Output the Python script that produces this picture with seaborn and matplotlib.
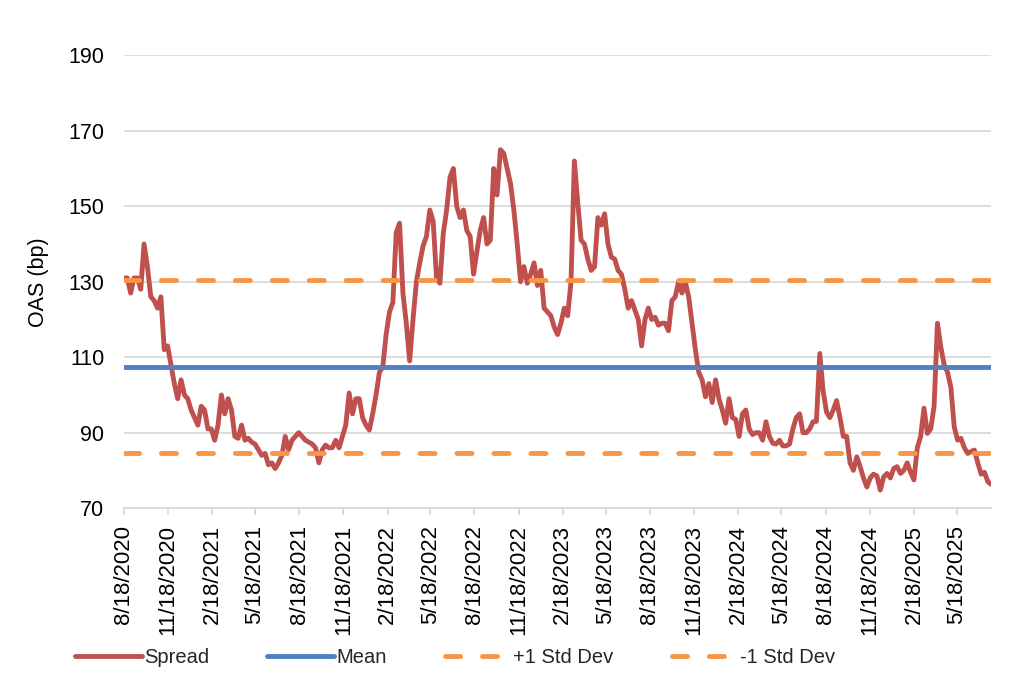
import numpy as np
import pandas as pd
import matplotlib
matplotlib.use("Agg")
import matplotlib.pyplot as plt
import seaborn as sns

# weekly OAS readings (bp), starting 8/18/2020
start_date = "2020-08-18"
spread = [
    131, 131, 127, 131, 131, 128, 140, 134, 126, 125,
    123, 126, 112, 113, 108, 103, 99, 104, 100, 99,
    96, 94, 92, 97, 96, 91, 91, 88, 92, 100,
    95, 99, 96, 89, 88.5, 92, 88, 88.5, 87.5, 87,
    85.5, 84, 84.5, 81.5, 82, 80.5, 82, 84, 89, 85.5,
    88, 89, 90, 89, 88, 87.5, 87, 86, 82, 85.5,
    86.7, 86, 86, 88, 86, 89, 92, 100.5, 95, 99,
    99, 94, 92, 90.7, 95, 100, 106, 107.4, 116, 122,
    124.5, 143, 145.5, 127, 119, 109, 120, 130, 135, 139.5,
    142, 149, 146, 131, 129.6, 142.8, 149, 157.7, 160, 150,
    147, 149, 143.6, 142, 132, 138, 143.6, 147, 140, 141,
    160, 153, 165, 164, 160, 156, 149, 140, 130, 134,
    129.6, 132, 135, 129, 133, 123, 122, 121, 118, 116,
    119, 123, 121, 130, 162, 151, 141, 140, 136, 133,
    134, 147, 145, 148, 140, 136.5, 136, 133, 132, 128,
    123, 125, 122.5, 120, 113, 120, 123, 120, 120.6, 118.5,
    119, 119, 117, 125, 126, 130, 127, 130, 126, 119,
    112, 106, 104, 99.5, 103, 98, 104, 99, 96, 92.5,
    99, 94, 93.5, 89, 95, 96, 91, 89.5, 90, 90,
    88, 92.9, 89, 87.2, 87, 88, 86.5, 86.5, 87, 91,
    94, 95, 90, 90, 91, 92.9, 93, 111, 101, 95.5,
    94, 96, 98.5, 94, 89, 89, 82, 80, 83.6, 81,
    78, 75.6, 78, 79, 78.5, 74.8, 78.3, 79.2, 78, 80.5,
    81, 79.2, 80, 82, 79.5, 77.5, 86, 89, 96.5, 89.8,
    91, 97, 119, 112.7, 108, 106, 102, 91.5, 88, 88.5,
    86, 84.5, 85, 85.4, 82, 79, 79.5, 77, 76.3,
]
mean_level = 107.5
plus_1sd = 130.5
minus_1sd = 84.5

tick_labels = ["8/18/2020", "11/18/2020", "2/18/2021", "5/18/2021", "8/18/2021",
               "11/18/2021", "2/18/2022", "5/18/2022", "8/18/2022", "11/18/2022",
               "2/18/2023", "5/18/2023", "8/18/2023", "11/18/2023", "2/18/2024",
               "5/18/2024", "8/18/2024", "11/18/2024", "2/18/2025", "5/18/2025"]
y_ticks = [70, 90, 110, 130, 150, 170, 190]

c_spread = "#C0504D"
c_mean = "#4F81BD"
c_sd = "#F79646"
grid_c = "#D9D9D9"
dash = (0, (3.1, 4.5))

sns.set_theme(style="white")
plt.rcParams["font.family"] = ["Liberation Sans", "DejaVu Sans"]

df = pd.DataFrame({
    "date": pd.date_range(start_date, periods=len(spread), freq="7D"),
    "Spread": spread,
})

fig = plt.figure(figsize=(10.24, 6.83), dpi=100)
ax = fig.add_axes([0.121, 0.256, 0.847, 0.663])

sns.lineplot(data=df, x="date", y="Spread", ax=ax, color=c_spread,
             linewidth=3.5, label="Spread", zorder=3)
ax.axhline(mean_level, color=c_mean, linewidth=3.5, label="Mean", zorder=4)
ax.axhline(plus_1sd, color=c_sd, linewidth=3.5, linestyle=dash,
           dash_capstyle="round", label="+1 Std Dev", zorder=5)
ax.axhline(minus_1sd, color=c_sd, linewidth=3.5, linestyle=dash,
           dash_capstyle="round", label="-1 Std Dev", zorder=5)

ax.set_xlim(df["date"].iloc[0], df["date"].iloc[-1])
ax.set_ylim(70, 190)
ax.set_yticks(y_ticks)
ax.yaxis.grid(True, color=grid_c, linewidth=1.3)
ax.xaxis.grid(False)
ax.set_axisbelow(True)

tick_dates = pd.to_datetime(tick_labels, format="%m/%d/%Y")
ax.set_xticks(tick_dates)
ax.set_xticklabels(tick_labels, rotation=90, fontsize=16, color="black")
ax.tick_params(axis="x", length=5, width=1.3, color=grid_c, pad=7, bottom=True)
ax.tick_params(axis="y", length=0, labelsize=15.5, labelcolor="black", pad=14)

for s in ["left", "right", "top"]:
    ax.spines[s].set_visible(False)
ax.spines["bottom"].set_color(grid_c)
ax.spines["bottom"].set_linewidth(1.3)

ax.set_xlabel("")
ax.set_ylabel("OAS (bp)", fontsize=15.5, color="black", labelpad=14)

handles, labels = ax.get_legend_handles_labels()
ax.get_legend().remove()
fig.legend(handles, labels, loc="center left", bbox_to_anchor=(0.056, 0.037),
           ncol=4, frameon=False, fontsize=14.5, handlelength=3.3,
           handletextpad=0.1, columnspacing=2.9)

fig.savefig("out.png", dpi=100)
plt.close(fig)
